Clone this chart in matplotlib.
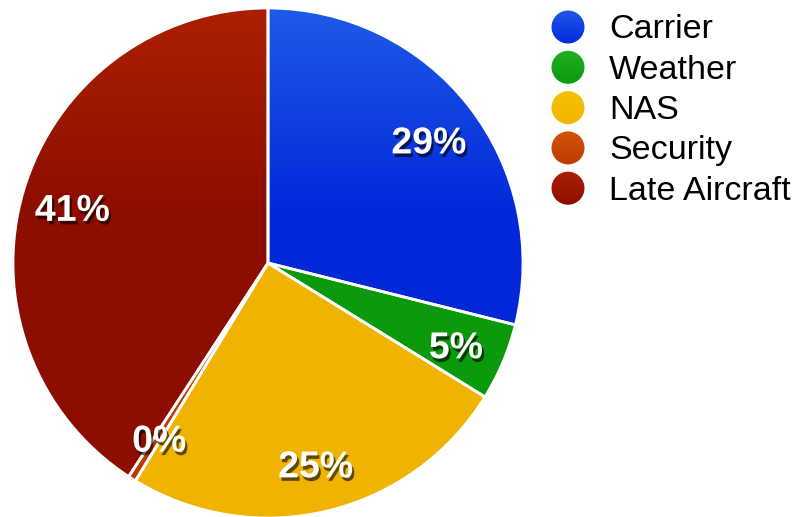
import numpy as np
import matplotlib
matplotlib.use("Agg")
import matplotlib.pyplot as plt
import matplotlib.patheffects as pe
from matplotlib.colors import to_rgb
from matplotlib.patches import Circle

plt.rcParams["font.family"] = ["Liberation Sans", "DejaVu Sans"]

causes = ["Carrier", "Weather", "NAS", "Security", "Late Aircraft"]
shares = [28.9, 4.9, 24.9, 0.5, 40.8]
# (top colour, bottom colour) for each slice
tops = ["#1e5ae8", "#20b020", "#f6c200", "#d4520a", "#ac2000"]
bottoms = ["#0228da", "#0a9a0c", "#f0b400", "#c03a00", "#8c0e00"]

W, H = 802, 517
CX, CY, R = 268, H - 263, 255


def shade(c0, c1, stop):
    t = np.linspace(0, 1, 256)[:, None]
    a, b = np.array(to_rgb(c0)), np.array(to_rgb(c1))
    return (a + (b - a) * np.clip(t / stop, 0, 1)[..., None]).repeat(2, axis=1)


fig = plt.figure(figsize=(W / 100, H / 100), dpi=100)
ax = fig.add_axes([0, 0, 1, 1])

wedges, _, pcts = ax.pie(
    shares, center=(CX, CY), radius=R, startangle=90, counterclock=False,
    autopct="%.0f%%", pctdistance=0.8,
    wedgeprops=dict(edgecolor="white", linewidth=2.0),
    textprops=dict(color="white", fontsize=27, fontweight="bold"),
)

# vertical shading inside every slice
for w, c0, c1 in zip(wedges, tops, bottoms):
    im = ax.imshow(shade(c0, c1, 0.4), extent=(CX - R, CX + R, CY - R, CY + R),
                   origin="upper", aspect="auto", zorder=w.get_zorder(),
                   interpolation="bilinear")
    im.set_clip_path(w)
    w.set_facecolor("none")
    w.set_zorder(w.get_zorder() + 0.5)

for t in pcts:
    x, y = t.get_position()
    t.set_position((x, y - 6))
    t.set_zorder(5)
    t.set_path_effects([pe.withSimplePatchShadow(offset=(1.5, -2.5), shadow_rgbFace="black", alpha=0.6)])

# legend on the right
for i, (name, c0, c1) in enumerate(zip(causes, tops, bottoms)):
    y = H - (27 + 40.3 * i)
    dot = Circle((568, y), 16.5, facecolor="none", edgecolor="none", zorder=4)
    ax.add_patch(dot)
    im = ax.imshow(shade(c0, c1, 1.0), extent=(551, 585, y - 17, y + 17),
                   origin="upper", aspect="auto", zorder=4, interpolation="bilinear")
    im.set_clip_path(dot)
    ax.text(609, y - 3, name, fontsize=24.5, va="center", ha="left", color="black")

ax.set_xlim(0, W)
ax.set_ylim(0, H)
ax.set_aspect("equal")
ax.axis("off")
fig.savefig("out.png", dpi=100, facecolor="white")
